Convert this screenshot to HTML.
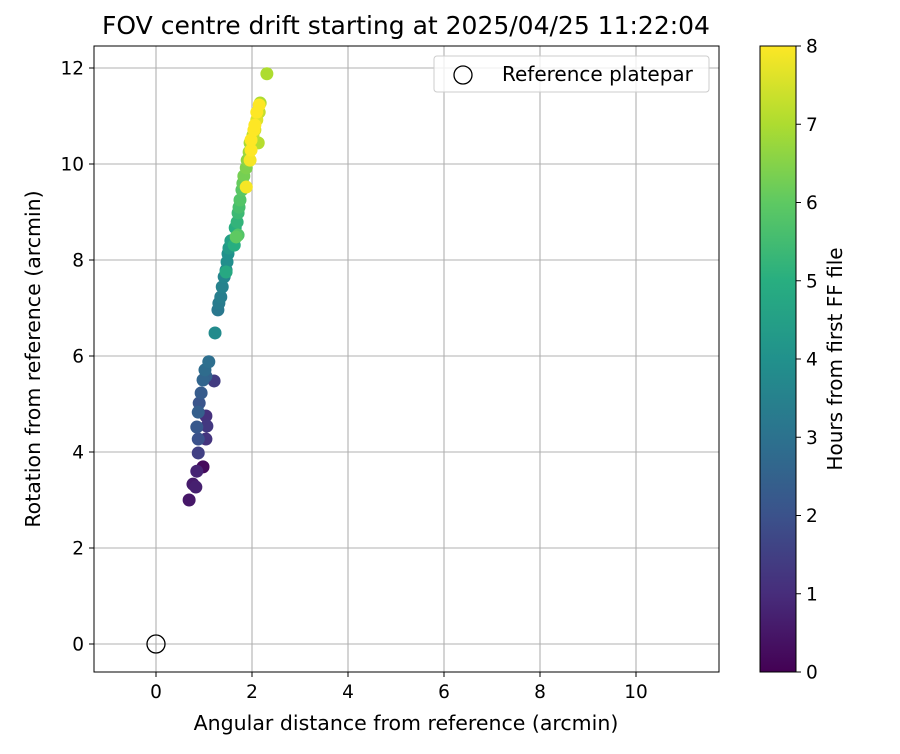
<!DOCTYPE html>
<html><head><meta charset="utf-8"><style>
body{margin:0;background:#fff;font-family:"DejaVu Sans","Liberation Sans",sans-serif}
svg text{font-family:"DejaVu Sans","Liberation Sans",sans-serif}
</style></head><body>
<svg id="c" width="900" height="750" xmlns="http://www.w3.org/2000/svg">
<defs><linearGradient id="vir" x1="0" y1="1" x2="0" y2="0">
<stop offset="0" stop-color="#440154"/><stop offset="0.125" stop-color="#472d7b"/><stop offset="0.25" stop-color="#3b528b"/><stop offset="0.375" stop-color="#2c728e"/><stop offset="0.5" stop-color="#21918c"/><stop offset="0.625" stop-color="#28ae80"/><stop offset="0.75" stop-color="#5ec962"/><stop offset="0.875" stop-color="#addc30"/><stop offset="1" stop-color="#fde725"/></linearGradient></defs>
<g id="grid"></g>
<g id="pts"></g>
<rect x="94" y="46" width="625" height="626" fill="none" stroke="#000" stroke-width="1"/>
<g id="ticks"></g>
<text x="406" y="34" font-size="25" text-anchor="middle">FOV centre drift starting at 2025/04/25 11:22:04</text>
<text x="406" y="730" font-size="20.5" text-anchor="middle">Angular distance from reference (arcmin)</text>
<text transform="translate(40,359) rotate(-90)" font-size="20.5" text-anchor="middle">Rotation from reference (arcmin)</text>
<g>
<rect x="434" y="56" width="275" height="36" rx="3" fill="#fff" fill-opacity="0.8" stroke="#ccc"/>
<circle cx="463" cy="75" r="9" fill="none" stroke="#000" stroke-width="1.3"/>
<text x="502" y="81" font-size="20">Reference platepar</text>
</g>
<rect x="760" y="46" width="36" height="626" fill="url(#vir)" stroke="#000"/>
<g id="cb"></g>
<text transform="translate(842,359) rotate(-90)" font-size="20" text-anchor="middle">Hours from first FF file</text>
</svg>
<script>
const xs=[0.69,0.77,0.83,0.85,0.98,0.88,1.04,1.06,1.04,0.88,0.85,0.88,0.90,0.94,0.98,1.02,1.04,1.21,1.10,1.23,1.29,1.31,1.35,1.38,1.42,1.46,1.48,1.50,1.52,1.56,1.65,1.69,1.71,1.73,1.75,1.79,1.81,1.83,1.88,1.90,1.94,1.96,2.02,2.06,2.10,2.15,2.17,2.13,2.31,1.46,1.63,1.71,1.67,1.88,1.96,1.98,1.98,2.04,2.06,2.10,2.15];
const ys=[3.00,3.33,3.27,3.60,3.69,3.98,4.27,4.54,4.75,4.27,4.52,4.83,5.02,5.23,5.50,5.71,5.58,5.48,5.88,6.48,6.96,7.10,7.23,7.44,7.65,7.79,7.96,8.13,8.25,8.40,8.67,8.79,8.98,9.10,9.25,9.46,9.60,9.75,9.92,10.08,10.25,10.44,10.60,10.71,10.92,11.08,11.27,10.44,11.88,7.75,8.31,8.52,8.48,9.52,10.08,10.29,10.50,10.71,10.81,11.08,11.23];
const hours=[0.5,0.6,0.7,0.8,0.2,1.5,1.2,1.3,1.1,2.0,2.2,2.4,2.1,2.3,2.6,2.8,2.5,1.4,2.9,3.8,3.2,3.3,3.4,3.5,3.6,3.7,3.9,4.0,4.3,4.5,5.0,5.2,5.4,5.6,5.8,5.9,6.1,6.3,6.4,6.6,6.8,6.9,7.2,7.4,7.6,7.3,7.0,7.1,7.0,4.8,5.0,5.8,6.0,7.9,7.9,8,8,8,8,8,8];
const xTicks=[0,2,4,6,8,10];
const yTicks=[0,2,4,6,8,10,12];
const cTicks=[0,1,2,3,4,5,6,7,8];
const NS='http://www.w3.org/2000/svg';
const X=v=>156+v*48, Y=v=>644-v*48, C=v=>672-v*626/8;
const vir=['#440154','#472d7b','#3b528b','#2c728e','#21918c','#28ae80','#5ec962','#addc30','#fde725'];
function hex(h){return [1,3,5].map(i=>parseInt(h.substr(i,2),16));}
function col(t){let f=Math.max(0,Math.min(8,t)),i=Math.min(7,Math.floor(f)),r=f-i,a=hex(vir[i]),b=hex(vir[i+1]);return 'rgb('+a.map((v,k)=>Math.round(v+(b[k]-v)*r)).join(',')+')';}
function mk(tag,at,p){const e=document.createElementNS(NS,tag);for(const k in at)e.setAttribute(k,at[k]);p.appendChild(e);return e;}
const g=document.getElementById('grid'),tk=document.getElementById('ticks'),cb=document.getElementById('cb'),pts=document.getElementById('pts');
xTicks.forEach(v=>{const l=mk('line',{x1:X(v),x2:X(v),y1:46,y2:672,stroke:'#b0b0b0','stroke-width':1.1},g);

mk('line',{x1:X(v),x2:X(v),y1:672,y2:677,stroke:'#000'},tk);
const t=mk('text',{x:X(v),y:698,'font-size':18.5,'text-anchor':'middle'},tk);t.textContent=v;
});
yTicks.forEach(v=>{const l=mk('line',{x1:94,x2:719,y1:Y(v),y2:Y(v),stroke:'#b0b0b0','stroke-width':1.1},g);

mk('line',{x1:89,x2:94,y1:Y(v),y2:Y(v),stroke:'#000'},tk);
const t=mk('text',{x:84,y:Y(v)+6.5,'font-size':18.5,'text-anchor':'end'},tk);t.textContent=v;
});
cTicks.forEach(v=>{mk('line',{x1:796,x2:801,y1:C(v),y2:C(v),stroke:'#000'},cb);
const t=mk('text',{x:806,y:C(v)+6.5,'font-size':18.5},cb);t.textContent=v;
});
const ord=hours.map((h,i)=>i).sort((a,b)=>hours[a]-hours[b]);
ord.forEach(i=>{const c=mk('circle',{cx:X(xs[i]),cy:Y(ys[i]),r:6.5,fill:col(hours[i])},pts);
});
const r=mk('circle',{cx:X(0),cy:Y(0),r:9,fill:'none',stroke:'#000','stroke-width':1.3},pts);

</script>
</body></html>
